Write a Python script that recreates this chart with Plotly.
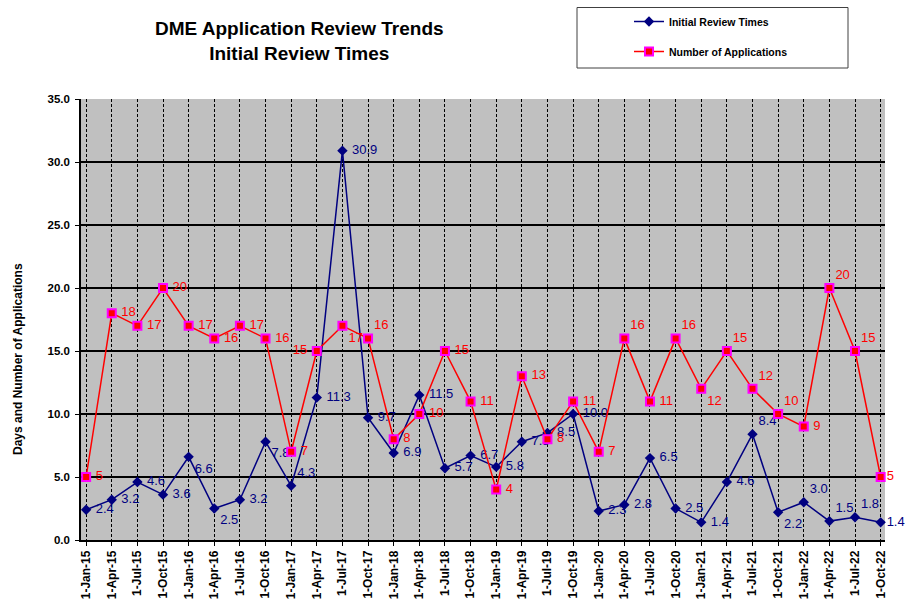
import plotly.graph_objects as go

quarters = ["1-Jan-15", "1-Apr-15", "1-Jul-15", "1-Oct-15", "1-Jan-16", "1-Apr-16", "1-Jul-16", "1-Oct-16",
            "1-Jan-17", "1-Apr-17", "1-Jul-17", "1-Oct-17", "1-Jan-18", "1-Apr-18", "1-Jul-18", "1-Oct-18",
            "1-Jan-19", "1-Apr-19", "1-Jul-19", "1-Oct-19", "1-Jan-20", "1-Apr-20", "1-Jul-20", "1-Oct-20",
            "1-Jan-21", "1-Apr-21", "1-Jul-21", "1-Oct-21", "1-Jan-22", "1-Apr-22", "1-Jul-22", "1-Oct-22"]
review_times = [2.4, 3.2, 4.6, 3.6, 6.6, 2.5, 3.2, 7.8, 4.3, 11.3, 30.9, 9.7, 6.9, 11.5, 5.7, 6.7,
                5.8, 7.8, 8.5, 10.0, 2.3, 2.8, 6.5, 2.5, 1.4, 4.6, 8.4, 2.2, 3.0, 1.5, 1.8, 1.4]
applications = [5, 18, 17, 20, 17, 16, 17, 16, 7, 15, 17, 16, 8, 10, 15, 11,
                4, 13, 8, 11, 7, 16, 11, 16, 12, 15, 12, 10, 9, 20, 15, 5]
y_ticks = [0, 5, 10, 15, 20, 25, 30, 35]

FONT = "Arial, Liberation Sans, sans-serif"
NAVY = "#000080"
RED = "#FF0000"

W, H = 905, 600
L, R, T, B = 81, 20, 99, 60
PW, PH = W - L - R, H - T - B


def px(fx):  # figure x pixel -> paper
    return (fx - L) / PW


def py(fy):  # figure y pixel -> paper
    return (H - B - fy) / PH


x = list(range(len(quarters)))

MR, TR, BR, ML = "middle right", "top right", "bottom right", "middle left"
blue_pos = [MR, MR, MR, MR, BR, BR, MR, BR, TR, MR, MR, MR, MR, MR, MR, MR,
            MR, MR, MR, MR, MR, MR, MR, MR, MR, MR, TR, BR, TR, TR, TR, MR]
red_pos = [MR, MR, MR, MR, MR, MR, MR, MR, MR, ML, BR, TR, MR, MR, MR, MR,
           MR, MR, MR, MR, MR, TR, MR, TR, BR, TR, TR, TR, MR, TR, TR, MR]


def lab(s, pos, last):
    if last:
        return s
    if pos == MR:
        return " " + s
    if pos == ML:
        return s + " "
    return s


fig = go.Figure()
fig.add_trace(go.Scatter(
    x=x, y=review_times, mode="lines+markers+text", name="<b>Initial Review Times</b>",
    line=dict(color=NAVY, width=1.5),
    marker=dict(symbol="diamond", size=8, color=NAVY),
    text=[lab(f"{v:.1f}", p, i == len(x) - 1) for i, (v, p) in enumerate(zip(review_times, blue_pos))],
    textposition=blue_pos,
    textfont=dict(family=FONT, size=13, color=NAVY),
    legendgroup="a", cliponaxis=False,
))
fig.add_trace(go.Scatter(
    x=x, y=applications, mode="lines+markers+text", name="<b>Number of Applications</b>",
    line=dict(color=RED, width=1.5),
    marker=dict(symbol="square", size=8, color=RED, line=dict(color="#FF00FF", width=2)),
    text=[lab(str(v), p, i == len(x) - 1) for i, (v, p) in enumerate(zip(applications, red_pos))],
    textposition=red_pos,
    textfont=dict(family=FONT, size=13, color=RED),
    legendgroup="b", cliponaxis=False,
))

fig.update_layout(
    width=W, height=H,
    margin=dict(l=L, r=R, t=T, b=B, autoexpand=False),
    paper_bgcolor="white", plot_bgcolor="#C0C0C0",
    font=dict(family=FONT, color="black"),
    showlegend=True,
    legend=dict(x=px(629), y=py(7), xanchor="left", yanchor="top", bgcolor="rgba(0,0,0,0)",
                font=dict(family=FONT, size=10.5, color="black"), tracegroupgap=11,
                itemwidth=30),
    shapes=[dict(type="rect", xref="paper", yref="paper", x0=px(577), x1=px(848),
                 y0=py(68), y1=py(7.5), line=dict(color="#404040", width=1),
                 fillcolor="white", layer="below")],
    annotations=[
        dict(text="<b>DME Application Review Trends<br>Initial Review Times</b>",
             xref="paper", yref="paper", x=px(299), y=py(41),
             xanchor="center", yanchor="middle", showarrow=False,
             font=dict(family=FONT, size=19, color="black")),
        dict(text="<b>Days and Number of Applications</b>", textangle=-90,
             xref="paper", yref="paper", x=px(18), y=py(359),
             xanchor="center", yanchor="middle", showarrow=False,
             font=dict(family=FONT, size=12, color="black")),
    ],
)
fig.update_xaxes(
    range=[-0.2, 31.17], tickvals=x, ticktext=quarters, tickangle=-90, automargin=False,
    tickfont=dict(family=FONT, size=12, weight="bold", color="black"),
    showgrid=True, gridcolor="black", gridwidth=1, griddash="3px,2px",
    showline=True, linecolor="black", linewidth=1.5,
    ticks="outside", ticklen=4, tickcolor="black", zeroline=False,
)
fig.update_yaxes(
    range=[0, 35], tickvals=y_ticks, tickformat=".1f", automargin=False,
    tickfont=dict(family=FONT, size=11.5, weight="bold", color="black"),
    showgrid=True, gridcolor="black", gridwidth=1.5,
    showline=True, linecolor="black", linewidth=1.5,
    ticks="outside", ticklen=4, tickcolor="black", zeroline=False,
    ticklabelstandoff=3,
)

fig.write_html("out.html", config={"displayModeBar": False},
               post_script="document.body.style.margin='0';document.body.style.overflow='hidden';")
